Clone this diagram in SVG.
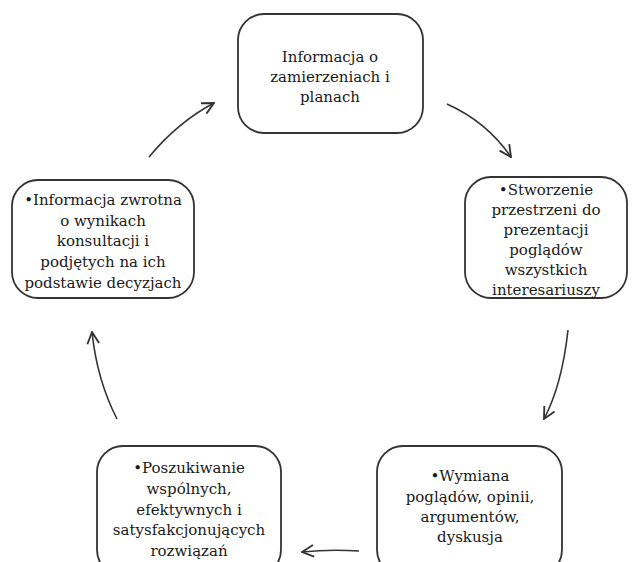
<svg xmlns="http://www.w3.org/2000/svg" width="640" height="562" viewBox="0 0 640 562">
<style>
.box{fill:#fff;stroke:#333;stroke-width:1.8}
.t{font-family:"DejaVu Serif","Liberation Serif",serif;font-size:15px;fill:#1a1a1a;text-anchor:middle}
.c{fill:none;stroke:#333;stroke-width:1.6}
</style>
<defs>
<marker id="ah" markerUnits="userSpaceOnUse" markerWidth="14" markerHeight="14" viewBox="0 0 12 12" refX="11" refY="6" orient="auto">
<path d="M1,1 L11,6 L1,11" fill="none" stroke="#333" stroke-width="1.6"/>
</marker>
</defs>
<rect width="640" height="562" fill="#fff"/>
<g id="n1">
<rect class="box" x="238" y="14" width="185" height="119" rx="26"/>
<text class="t" x="330" y="62">Informacja o</text>
<text class="t" x="330" y="82">zamierzeniach i</text>
<text class="t" x="330" y="102">planach</text>
</g>
<g id="n2">
<rect class="box" x="465" y="177" width="162" height="121" rx="26"/>
<text class="t" x="546" y="195">•Stworzenie</text>
<text class="t" x="546" y="215">przestrzeni do</text>
<text class="t" x="546" y="235">prezentacji</text>
<text class="t" x="546" y="255">poglądów</text>
<text class="t" x="546" y="275">wszystkich</text>
<text class="t" x="546" y="295">interesariuszy</text>
</g>
<g id="n3">
<rect class="box" x="377" y="446" width="185" height="130" rx="26"/>
<text class="t" x="470" y="481">•Wymiana</text>
<text class="t" x="470" y="502">poglądów, opinii,</text>
<text class="t" x="470" y="522">argumentów,</text>
<text class="t" x="470" y="542">dyskusja</text>
</g>
<g id="n4">
<rect class="box" x="97" y="446" width="184" height="130" rx="26"/>
<text class="t" x="189" y="473">•Poszukiwanie</text>
<text class="t" x="189" y="494">wspólnych,</text>
<text class="t" x="189" y="515">efektywnych i</text>
<text class="t" x="189" y="535">satysfakcjonujących</text>
<text class="t" x="189" y="556">rozwiązań</text>
</g>
<g id="n5">
<rect class="box" x="12" y="180" width="182" height="118" rx="26"/>
<text class="t" x="103" y="205">•Informacja zwrotna</text>
<text class="t" x="103" y="226">o wynikach</text>
<text class="t" x="103" y="246">konsultacji i</text>
<text class="t" x="103" y="267">podjętych na ich</text>
<text class="t" x="103" y="288">podstawie decyzjach</text>
</g>
<g id="connectors">
<path class="c" d="M149,157 Q178,122 214,103" marker-end="url(#ah)"/>
<path class="c" d="M447,104 Q487,122 511,157" marker-end="url(#ah)"/>
<path class="c" d="M568,330 Q562,385 544,419" marker-end="url(#ah)"/>
<path class="c" d="M117,419 Q97,380 92,332" marker-end="url(#ah)"/>
<path class="c" d="M359,551 Q330,549 302,552" marker-end="url(#ah)"/>
</g>
</svg>
